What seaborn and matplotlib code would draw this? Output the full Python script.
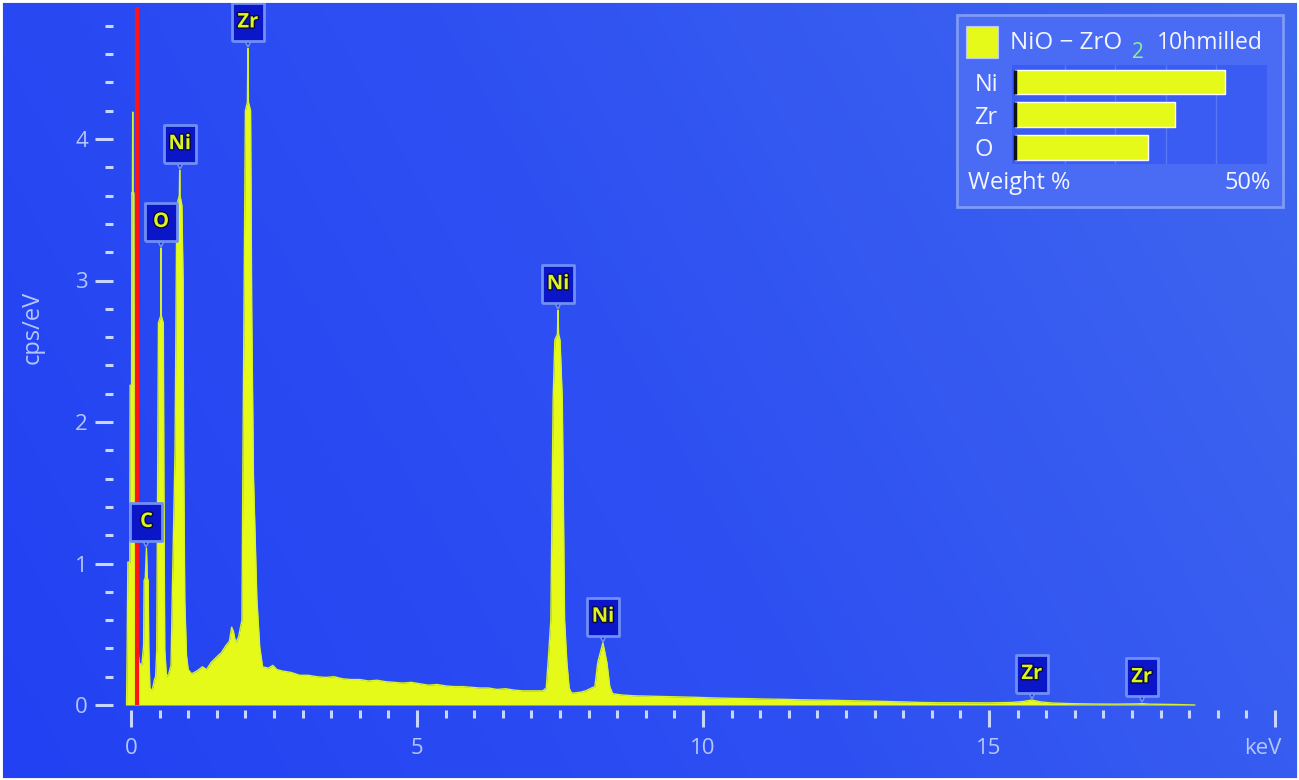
import numpy as np
import pandas as pd
import matplotlib
matplotlib.use("Agg")
import matplotlib.pyplot as plt
import seaborn as sns
from matplotlib import transforms, patheffects
from matplotlib.patches import Rectangle
from matplotlib.ticker import FixedLocator
from matplotlib.colors import LinearSegmentedColormap

# ---------------- data ----------------
energy_kev = [
    -0.078, -0.07, -0.055, -0.02, -0.015, 0.01, 0.015, 0.025, 0.03, 0.035, 0.05, 0.06, 0.10, 0.14,
    0.19, 0.22, 0.23, 0.25, 0.27, 0.285, 0.30, 0.31, 0.33, 0.37, 0.41,
    0.43, 0.45, 0.465, 0.48, 0.52, 0.525, 0.53, 0.565, 0.575, 0.59, 0.62, 0.66,
    0.70, 0.72, 0.77, 0.79, 0.80, 0.845, 0.851, 0.857, 0.89, 0.91, 0.92, 0.94, 0.97, 1.00,
    1.06, 1.15, 1.25, 1.32, 1.40, 1.50, 1.58, 1.66, 1.72, 1.76, 1.79, 1.83, 1.88,
    1.94, 1.955, 1.975, 2.00, 2.035, 2.044, 2.053, 2.09, 2.11, 2.14, 2.20, 2.25, 2.30,
    2.40, 2.48, 2.55, 2.65, 2.80, 2.95, 3.10, 3.25, 3.40, 3.55, 3.70, 3.85, 4.00, 4.15,
    4.30, 4.45, 4.60, 4.75, 4.90, 5.05, 5.20, 5.35, 5.50, 5.65, 5.80, 5.95, 6.10, 6.25,
    6.40, 6.55, 6.70, 6.85, 7.00, 7.10, 7.20,
    7.26, 7.30, 7.34, 7.38, 7.41, 7.455, 7.465, 7.475, 7.50, 7.54, 7.58, 7.62, 7.66, 7.70,
    7.75, 7.85, 7.95, 8.05, 8.11, 8.16, 8.25, 8.32, 8.37, 8.42, 8.50,
    8.60, 8.80, 9.00, 9.30, 9.60, 9.90, 10.2, 10.5, 10.8, 11.1, 11.4, 11.7, 12.0, 12.3,
    12.6, 12.9, 13.2, 13.5, 13.8, 14.1, 14.5, 15.0, 15.4, 15.6, 15.75, 15.9, 16.1, 16.4,
    16.8, 17.2, 17.6, 17.67, 17.8, 18.2, 18.6,
]
counts_cps = [
    0.0, 0.28, 1.01, 1.01, 2.26, 2.26, 3.62, 3.62, 4.19, 3.62, 3.62, 1.5, 0.5, 0.3,
    0.28, 0.42, 0.88, 0.9, 1.11, 0.9, 0.88, 0.42, 0.12, 0.10, 0.18,
    0.20, 0.39, 1.55, 2.7, 2.75, 3.23, 2.75, 2.7, 1.55, 0.39, 0.20, 0.22,
    0.28, 0.74, 1.8, 3.0, 3.53, 3.6, 3.78, 3.6, 3.53, 3.0, 1.8, 0.74, 0.35, 0.25,
    0.22, 0.24, 0.27, 0.25, 0.30, 0.34, 0.37, 0.42, 0.45, 0.55, 0.52, 0.44, 0.48,
    0.60, 1.63, 2.8, 4.2, 4.26, 4.64, 4.26, 4.2, 2.8, 1.63, 0.75, 0.41, 0.27,
    0.26, 0.28, 0.25, 0.24, 0.23, 0.21, 0.21, 0.20, 0.195, 0.20, 0.185, 0.18, 0.18, 0.17,
    0.175, 0.165, 0.16, 0.155, 0.16, 0.15, 0.14, 0.145, 0.135, 0.13, 0.13, 0.125, 0.12, 0.12,
    0.11, 0.115, 0.105, 0.10, 0.10, 0.10, 0.10,
    0.12, 0.35, 0.6, 2.16, 2.58, 2.62, 2.79, 2.62, 2.58, 2.16, 0.6, 0.3, 0.12, 0.085,
    0.085, 0.09, 0.10, 0.12, 0.13, 0.30, 0.44, 0.30, 0.13, 0.08, 0.075,
    0.07, 0.065, 0.063, 0.06, 0.057, 0.054, 0.05, 0.047, 0.045, 0.042, 0.04, 0.037, 0.035, 0.033,
    0.03, 0.028, 0.025, 0.022, 0.018, 0.016, 0.016, 0.015, 0.018, 0.025, 0.035, 0.022, 0.014, 0.01,
    0.007, 0.006, 0.008, 0.01, 0.006, 0.004, 0.0,
]

peak_labels = ["C", "O", "Ni", "Zr", "Ni", "Ni", "Zr", "Zr"]
peak_energy = [0.27, 0.525, 0.851, 2.044, 7.465, 8.25, 15.75, 17.67]
peak_height = [1.11, 3.23, 3.78, 4.64, 2.79, 0.44, 0.035, 0.012]

marker_energy = 0.105  # red marker line

x_major = [0, 5, 10, 15, 20]
x_labels = ["0", "5", "10", "15", "keV"]
y_major = [0, 1, 2, 3, 4]
y_labels = ["0", "1", "2", "3", "4"]

elements = ["Ni", "Zr", "O"]
weight_pct = [41.9, 31.8, 26.4]
legend_title = "NiO \u2212 ZrO"
legend_sub = "2"
legend_suffix = "10hmilled"

# ---------------- style ----------------
sns.set_style("white")
plt.rcParams["font.family"] = ["Open Sans", "DejaVu Sans"]

W, H = 1299, 780
PX_KEV = 57.2
PX_CPS = 141.5
X0, Y0 = 131, 705

YELLOW = "#e6fa1a"
AXTXT = "#b4c6ff"
TICKC = "#c8d6ff"
WHITE = "#f2f5ff"
BOXFC = "#0b16c8"
BOXEC = "#6f8ff5"

fig = plt.figure(figsize=(W / 100, H / 100), dpi=100)
fig.patch.set_facecolor("white")
ax = fig.add_axes([0, 0, 1, 1])

xlim = (-X0 / PX_KEV, (W - X0) / PX_KEV)
ylim = (-(H - Y0) / PX_CPS, Y0 / PX_CPS)

# background gradient
cmap = LinearSegmentedColormap.from_list("bg", ["#2241f3", "#2e50f2", "#4068ef"])
gx = np.linspace(0, 1, 256)
gy = np.linspace(0, 1, 128)
grad = 0.75 * gx[None, :] + 0.25 * gy[:, None]
ax.imshow(grad, extent=[xlim[0], xlim[1], ylim[0], ylim[1]], origin="lower",
          aspect="auto", cmap=cmap, zorder=0, interpolation="bicubic")

# spectrum
df = pd.DataFrame({"energy": energy_kev, "cps": counts_cps})
ax.fill_between(df["energy"], df["cps"], 0, color=YELLOW, lw=0, zorder=2)
sns.lineplot(data=df, x="energy", y="cps", ax=ax, color="#d6f22a", lw=1.0,
             estimator=None, sort=False, zorder=3)

# red marker line
ax.vlines(marker_energy, 0, 4.93, color="#ff1515", lw=3.0, zorder=4)

ax.set_xlim(*xlim)
ax.set_ylim(*ylim)
ax.set_xlabel("")
ax.set_ylabel("")

# axes / ticks
for s in ["top", "right"]:
    ax.spines[s].set_visible(False)
ax.spines["bottom"].set_position(("data", -5 / PX_CPS))
ax.spines["left"].set_position(("data", -18 / PX_KEV))
ax.spines["bottom"].set_color("none")
ax.spines["left"].set_color("none")

ax.xaxis.set_major_locator(FixedLocator(x_major))
ax.xaxis.set_minor_locator(FixedLocator(np.arange(0, 20.01, 0.5)))
ax.set_xticklabels(x_labels)
ax.yaxis.set_major_locator(FixedLocator(y_major))
ax.yaxis.set_minor_locator(FixedLocator(np.arange(0, 4.81, 0.2)))
ax.set_yticklabels(y_labels)

ax.tick_params(which="both", bottom=True, left=True, top=False, right=False)
ax.tick_params(axis="x", which="major", direction="out", length=12.5, width=2.2,
               color=TICKC, labelsize=16, labelcolor=AXTXT, pad=8)
ax.tick_params(axis="x", which="minor", direction="out", length=6, width=2.2, color=TICKC)
ax.tick_params(axis="y", which="major", direction="out", length=13, width=2.2,
               color=TICKC, labelsize=16, labelcolor=AXTXT, pad=5)
ax.tick_params(axis="y", which="minor", direction="out", length=6, width=2.2, color=TICKC)

# "keV" label sits a little left of its tick
last = ax.get_xticklabels()[-1]
last.set_transform(last.get_transform() + transforms.ScaledTranslation(-12 / 100, 0, fig.dpi_scale_trans))

fig.text(33 / W, 1 - 327 / H, "cps/eV", rotation=90, ha="center", va="center",
         color=AXTXT, fontsize=17)

# peak labels (tag box + pointer)
tag_marker = [(-0.85, -1), (0.85, -1), (0.85, 1), (-0.85, 1), (-0.85, -1)]
box_tr = transforms.offset_copy(ax.transData, fig=fig, x=0, y=26, units="dots")
tri_tr = transforms.offset_copy(ax.transData, fig=fig, x=0, y=7, units="dots")
for lab, e, h in zip(peak_labels, peak_energy, peak_height):
    ax.plot(e, h, marker="v", ms=9, color=BOXFC, mec=BOXEC, mew=1.2,
            transform=tri_tr, zorder=5, clip_on=False)
    ax.plot(e, h, marker=tag_marker, ms=27, color=BOXFC, mec=BOXEC, mew=2.0,
            transform=box_tr, zorder=6, clip_on=False)
    t = ax.text(e, h, lab, transform=box_tr, ha="center", va="center",
                fontsize=14.5, fontweight="bold", color="#dcf51e", zorder=7)
    t.set_path_effects([patheffects.withStroke(linewidth=2, foreground="#0a0a40")])

# legend box
fig.add_artist(Rectangle((957 / W, 1 - 207 / H), 326 / W, 192 / H, transform=fig.transFigure,
                         facecolor="#4a6cf4", edgecolor="#7e9bf7", lw=2.0, zorder=10))
fig.add_artist(Rectangle((966 / W, 1 - 58 / H), 32 / W, 32 / H, transform=fig.transFigure,
                         facecolor=YELLOW, edgecolor="#b8c8ff", lw=0.8, zorder=11))
fig.text(1010 / W, 1 - 43 / H, legend_title, ha="left", va="center", color=WHITE,
         fontsize=17.5, zorder=12)
fig.text(1138 / W, 1 - 53 / H, legend_sub, ha="center", va="center", color="#8ef08e",
         fontsize=15, zorder=12)
fig.text(1157 / W, 1 - 43 / H, legend_suffix, ha="left", va="center", color=WHITE,
         fontsize=16.5, zorder=12)
fig.text(968 / W, 1 - 183 / H, "Weight %", ha="left", va="center", color=WHITE,
         fontsize=17, zorder=12)
fig.text(1271 / W, 1 - 183 / H, "50%", ha="right", va="center", color=WHITE,
         fontsize=17, zorder=12)

bax = fig.add_axes([1012 / W, 1 - 164 / H, 255 / W, 99 / H], zorder=13)
bax.set_facecolor("#3a5cf2")
wdf = pd.DataFrame({"element": elements, "weight": weight_pct})
sns.barplot(data=wdf, x="weight", y="element", orient="h", color=YELLOW, saturation=1,
            width=0.76, ax=bax, zorder=3)
for p in bax.patches:
    bax.plot([0, 0], [p.get_y(), p.get_y() + p.get_height()], color="#101018", lw=2.5,
             zorder=4, solid_capstyle="butt")
bax.set_xlim(-0.6, 50.2)
bax.set_xticks([10, 20, 30, 40])
bax.set_xticklabels([])
bax.grid(axis="x", color="#5878f4", lw=1.0)
bax.grid(axis="y", visible=False)
bax.set_axisbelow(True)
bax.set_xlabel("")
bax.set_ylabel("")
for s in bax.spines.values():
    s.set_visible(False)
bax.tick_params(axis="x", length=0)
bax.tick_params(axis="y", length=0, pad=27, labelsize=17, labelcolor=WHITE)
for lbl in bax.get_yticklabels():
    lbl.set_ha("left")

# thin white frame
fig.add_artist(Rectangle((0, 0), 1, 1, transform=fig.transFigure, facecolor="none",
                         edgecolor="white", lw=3.5, zorder=20))

fig.savefig("out.png", dpi=100, facecolor=fig.get_facecolor())
